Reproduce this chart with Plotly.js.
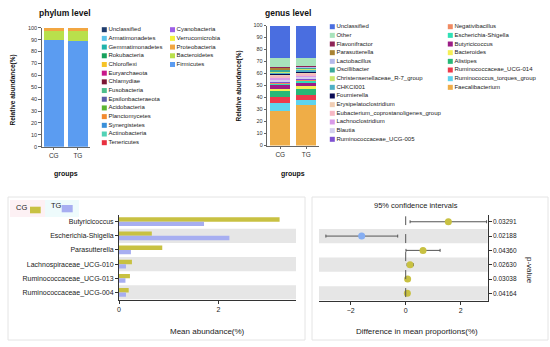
<!DOCTYPE html>
<html><head><meta charset="utf-8">
<script src="https://cdn.plot.ly/plotly-3.0.1.min.js"></script>
<style>
html,body{margin:0;padding:0;background:#fff;}
#wrap{position:relative;width:550px;height:347px;overflow:hidden;background:#fff;}
.pl{position:absolute;left:0;top:0;width:550px;height:347px;}
</style></head><body>
<div id="wrap">
<div id="p1" class="pl"></div>
<div id="p2" class="pl"></div>
<div id="p3" class="pl"></div>
<div id="p4" class="pl"></div>
</div>
<script>
// ---------------- DATA ----------------
const groups = ['CG', 'TG'];

const phylumNames = ['Unclassified','Armatimonadetes','Gemmatimonadetes','Rokubacteria','Chloroflexi','Euryarchaeota','Chlamydiae','Fusobacteria','Epsilonbacteraeota','Acidobacteria','Planctomycetes','Synergistetes','Actinobacteria','Tenericutes','Cyanobacteria','Verrucomicrobia','Proteobacteria','Bacteroidetes','Firmicutes'];
const phylumCG = [0.05,0.01,0.01,0.01,0.01,0.03,0.01,0.02,0.03,0.01,0.01,0.02,0.08,0.1,0.05,0.05,2.3,7.7,89.5];
const phylumTG = [0.04,0.01,0.01,0.01,0.01,0.02,0.01,0.02,0.02,0.01,0.01,0.02,0.06,0.08,0.04,0.03,2.6,8.0,89.0];

const genusNames = ['Unclassified','Other','Flavonifractor','Parasutterella','Lactobacillus','Oscillibacter','Christensenellaceae_R-7_group','CHKCI001','Fournierella','Erysipelatoclostridium','Eubacterium_coprostanoligenes_group','Lachnoclostridium','Blautia','Ruminococcaceae_UCG-005','Negativibacillus','Escherichia-Shigella','Butyricicoccus','Bacteroides','Alistipes','Ruminococcaceae_UCG-014','Ruminococcus_torques_group','Faecalibacterium'];
const genusCG = [27.3,7.5,1.0,0.9,0.7,1.2,0.8,1.3,0.6,1.0,1.4,1.4,1.6,1.2,1.0,0.7,3.2,2.0,4.5,5.5,6.2,29.0];
const genusTG = [27.3,6.2,0.9,0.25,0.9,1.0,0.8,1.25,1.3,0.7,1.1,1.3,1.2,1.0,0.9,2.2,1.7,3.3,4.7,4.1,4.4,33.5];

const diffGenera = ['Butyricicoccus','Escherichia-Shigella','Parasutterella','Lachnospiraceae_UCG-010','Ruminococcaceae_UCG-013','Ruminococcaceae_UCG-004'];
const meanCG = [3.23,0.66,0.87,0.26,0.22,0.195];
const meanTG = [1.71,2.22,0.24,0.14,0.13,0.14];
const diffMean = [1.55,-1.6,0.63,0.16,0.07,0.06];
const ciLow = [0.16,-2.9,0.01,0.05,0.02,0.0];
const ciHigh = [2.94,-0.29,1.25,0.28,0.14,0.13];
const pValues = ['0.03291','0.02188','0.04360','0.02630','0.03038','0.04164'];

// ---------------- STYLES ----------------
const phylumColors = ['#1f3d6e','#5cc3ea','#1fb3aa','#17a05c','#f6c327','#c8188a','#7b1633','#4dbf8c','#5b5ea8','#5db532','#f28a2f','#3a8fd9','#52d2b6','#e8303f','#9d5fe6','#f4f23b','#f2a641','#b9e04c','#5b9cf1'];
const genusColors = ['#4a6ee0','#a8e3bc','#8e2457','#a88233','#b4b9ea','#3aa99a','#cbe86e','#4fb0c4','#0b0b55','#f0cdb4','#f6b7c4','#d89ae8','#d4cfee','#7f52d1','#f08a62','#2fe0b5','#9b1d86','#f5ef55','#27b877','#ec3a4c','#5fd4ee','#efad47'];
const colCG = '#c8c142', colTG = '#a7aef1';
const FONT = 'Arial, "Liberation Sans", sans-serif';
const W = 550, H = 347;
const fx = p => p / W;
const fy = p => 1 - p / H;
const dx = (a, b) => [fx(a), fx(b)];
const dy = (top, bottom) => [fy(bottom), fy(top)];
const cfg = {staticPlot: true};

function baseLayout() {
  return {
    width: W, height: H, margin: {l: 0, r: 0, t: 0, b: 0, pad: 0},
    paper_bgcolor: 'rgba(0,0,0,0)', plot_bgcolor: 'rgba(0,0,0,0)',
    showlegend: false, font: {family: FONT, size: 6, color: '#333'},
    annotations: [], shapes: []
  };
}
function ann(text, x, y, opts) {
  return Object.assign({text: text, xref: 'paper', yref: 'paper', x: fx(x), y: fy(y),
    xanchor: 'center', yanchor: 'middle', showarrow: false,
    font: {family: FONT, size: 7, color: '#222'}}, opts || {});
}
function legendTrace(names, colors, perCol) {
  return {
    type: 'scatter', mode: 'markers+text', xaxis: 'x2', yaxis: 'y2', cliponaxis: false,
    x: names.map((n, i) => Math.floor(i / perCol)),
    y: names.map((n, i) => i % perCol),
    text: names, textposition: 'middle right',
    textfont: {family: FONT, size: 6, color: '#222'},
    marker: {symbol: 'square', size: 5, color: colors, line: {width: 0}},
    hoverinfo: 'skip'
  };
}
function stackedPanel(div, names, cg, tg, colors, geo) {
  const traces = [];
  for (let i = names.length - 1; i >= 0; i--) {
    traces.push({type: 'bar', name: names[i], x: groups, y: [cg[i], tg[i]],
      marker: {color: colors[i], line: {width: 0}}, width: geo.barw, hoverinfo: 'skip'});
  }
  traces.push(legendTrace(names, colors, 14));
  const L = baseLayout();
  L.barmode = 'stack';
  L.xaxis = {domain: dx(geo.x0, geo.x1), type: 'category', categoryarray: groups, range: [-0.5, 1.5],
    showline: true, linecolor: '#666', linewidth: 1, ticks: 'outside', ticklen: 2.5, tickcolor: '#666',
    tickfont: {size: 6.5, color: '#333'}, showgrid: false, zeroline: false};
  L.yaxis = {domain: dy(geo.yTop, geo.yBot), range: [0, 100], dtick: 10, showline: true, linecolor: '#666',
    linewidth: 1, ticks: 'outside', ticklen: 2.5, tickcolor: '#666', tickfont: {size: 5.5, color: '#333'},
    showgrid: false, zeroline: false};
  L.xaxis2 = {domain: dx(geo.lx0, geo.lx1), range: [0, 1], visible: false};
  L.yaxis2 = {domain: dy(geo.ly0, geo.ly1), range: [13, 0], visible: false};
  L.annotations = [
    ann(geo.title, geo.tx, 13, {font: {family: FONT, size: 8.5, color: '#111', weight: 'bold'}}),
    ann('<b>groups</b>', geo.gx, 173.5, {font: {family: FONT, size: 7, color: '#111'}}),
    ann('<b>Relative abundance(%)</b>', geo.ytx, geo.yty, {textangle: -90, font: {family: FONT, size: 6.5, color: '#111'}})
  ];
  Plotly.newPlot(div, traces, L, cfg);
}

// ---------------- PANEL 1: phylum ----------------
stackedPanel('p1', phylumNames, phylumCG, phylumTG, phylumColors,
  {barw: 0.83, x0: 41.7, x1: 90, yTop: 27.7, yBot: 146.7, lx0: 104.3, lx1: 172.5, ly0: 29.7, ly1: 142.7,
   title: '<b>phylum level</b>', tx: 65, gx: 65.5, ytx: 12.5, yty: 90});

// ---------------- PANEL 2: genus ----------------
stackedPanel('p2', genusNames, genusCG, genusTG, genusColors,
  {barw: 0.77, x0: 267.3, x1: 319.3, yTop: 25.5, yBot: 145.5, lx0: 332.3, lx1: 450.3, ly0: 26.7, ly1: 139.3,
   title: '<b>genus level</b>', tx: 288, gx: 293, ytx: 238.5, yty: 86});

// ---------------- PANEL 3: mean abundance ----------------
(function () {
  const traces = [
    {type: 'bar', orientation: 'h', name: groups[0], x: meanCG, y: diffGenera, marker: {color: colCG, line: {width: 0}}, hoverinfo: 'skip'},
    {type: 'bar', orientation: 'h', name: groups[1], x: meanTG, y: diffGenera, marker: {color: colTG, line: {width: 0}}, hoverinfo: 'skip'}
  ];
  const L = baseLayout();
  L.barmode = 'group'; L.bargap = 0.38; L.bargroupgap = 0;
  L.xaxis = {domain: dx(119, 296), range: [0, 3.56], tickvals: [0, 2], showline: true, linecolor: '#333',
    ticks: 'outside', ticklen: 3, tickcolor: '#333', tickfont: {size: 7, color: '#222'}, showgrid: false, zeroline: false};
  L.yaxis = {domain: dy(214.6, 299.5), type: 'category', categoryarray: diffGenera, range: [diffGenera.length - 0.5, -0.5],
    showline: true, linecolor: '#333', ticks: 'outside', ticklen: 3, tickcolor: '#333',
    tickfont: {size: 7, color: '#222'}, showgrid: false, zeroline: false};
  L.shapes.push({type: 'rect', xref: 'paper', yref: 'paper', x0: fx(8), x1: fx(305), y0: fy(340), y1: fy(197),
    line: {color: '#e4e4e4', width: 1}, fillcolor: 'rgba(0,0,0,0)', layer: 'below'});
  diffGenera.forEach((g, i) => {
    if (i % 2 === 1) L.shapes.push({type: 'rect', xref: 'x domain', yref: 'y', x0: 0, x1: 1, y0: i - 0.5, y1: i + 0.5,
      fillcolor: '#e6e6e6', line: {width: 0}, layer: 'below'});
  });
  // legend (text then swatch)
  L.shapes.push({type: 'rect', xref: 'paper', yref: 'paper', x0: fx(10), x1: fx(45), y0: fy(217), y1: fy(200), fillcolor: '#fdf1f4', line: {width: 0}, layer: 'below'});
  L.shapes.push({type: 'rect', xref: 'paper', yref: 'paper', x0: fx(45), x1: fx(79), y0: fy(217), y1: fy(200), fillcolor: '#eefbfc', line: {width: 0}, layer: 'below'});
  L.shapes.push({type: 'rect', xref: 'paper', yref: 'paper', x0: fx(30), x1: fx(40.7), y0: fy(213.3), y1: fy(206.7), fillcolor: colCG, line: {width: 0}});
  L.shapes.push({type: 'rect', xref: 'paper', yref: 'paper', x0: fx(61.7), x1: fx(72.7), y0: fy(212.3), y1: fy(205), fillcolor: colTG, line: {width: 0}});
  L.annotations.push(ann(groups[0], 14, 207.5, {xanchor: 'left', font: {family: FONT, size: 7.5, color: '#222'}}));
  L.annotations.push(ann(groups[1], 48.5, 205, {xanchor: 'left', font: {family: FONT, size: 7.5, color: '#222'}}));
  L.annotations.push(ann('Mean abundance(%)', 207.5, 331.5, {font: {family: FONT, size: 8, color: '#222'}}));
  Plotly.newPlot('p3', traces, L, cfg);
})();

// ---------------- PANEL 4: confidence intervals ----------------
(function () {
  const traces = [{
    type: 'scatter', mode: 'markers', x: diffMean, y: diffGenera, cliponaxis: false,
    error_x: {type: 'data', symmetric: false,
      array: diffMean.map((m, i) => ciHigh[i] - m),
      arrayminus: diffMean.map((m, i) => m - ciLow[i]),
      color: '#555', thickness: 1, width: 1.5},
    marker: {size: 7, color: diffMean.map(m => m >= 0 ? colCG : '#86aef2'), line: {width: 0}},
    hoverinfo: 'skip'
  }];
  const L = baseLayout();
  L.xaxis = {domain: dx(319, 487.7), range: [-3.15, 2.98], tickvals: [-2, 0, 2], showline: true, linecolor: '#333',
    ticks: 'outside', ticklen: 3, tickcolor: '#333', tickfont: {size: 7, color: '#222'}, showgrid: false, zeroline: false};
  L.yaxis = {domain: dy(214.6, 300.5), type: 'category', categoryarray: diffGenera, side: 'right',
    range: [diffGenera.length - 0.5, -0.5], tickvals: diffGenera, ticktext: pValues,
    showline: true, linecolor: '#333', ticks: 'outside', ticklen: 3, tickcolor: '#333',
    tickfont: {size: 6.5, color: '#222'}, showgrid: false, zeroline: false};
  L.shapes.push({type: 'rect', xref: 'paper', yref: 'paper', x0: fx(312), x1: fx(548), y0: fy(340), y1: fy(197),
    line: {color: '#e4e4e4', width: 1}, fillcolor: 'rgba(0,0,0,0)', layer: 'below'});
  diffGenera.forEach((g, i) => {
    if (i % 2 === 1) L.shapes.push({type: 'rect', xref: 'x domain', yref: 'y', x0: 0, x1: 1, y0: i - 0.5, y1: i + 0.5,
      fillcolor: '#e6e6e6', line: {width: 0}, layer: 'below'});
  });
  L.shapes.push({type: 'line', xref: 'x', yref: 'y domain', x0: 0, x1: 0, y0: 0.04, y1: 0.98,
    line: {color: '#555', width: 1, dash: 'dash'}});
  L.annotations.push(ann('95% confidence intervals', 416, 205.5, {font: {family: FONT, size: 7.5, color: '#222'}}));
  L.annotations.push(ann('Difference in mean proportions(%)', 416.5, 331.5, {font: {family: FONT, size: 8, color: '#222'}}));
  L.annotations.push(ann('p-value', 530, 270, {textangle: 90, font: {family: FONT, size: 8, color: '#222'}}));
  Plotly.newPlot('p4', traces, L, cfg);
})();
</script>
</body></html>
